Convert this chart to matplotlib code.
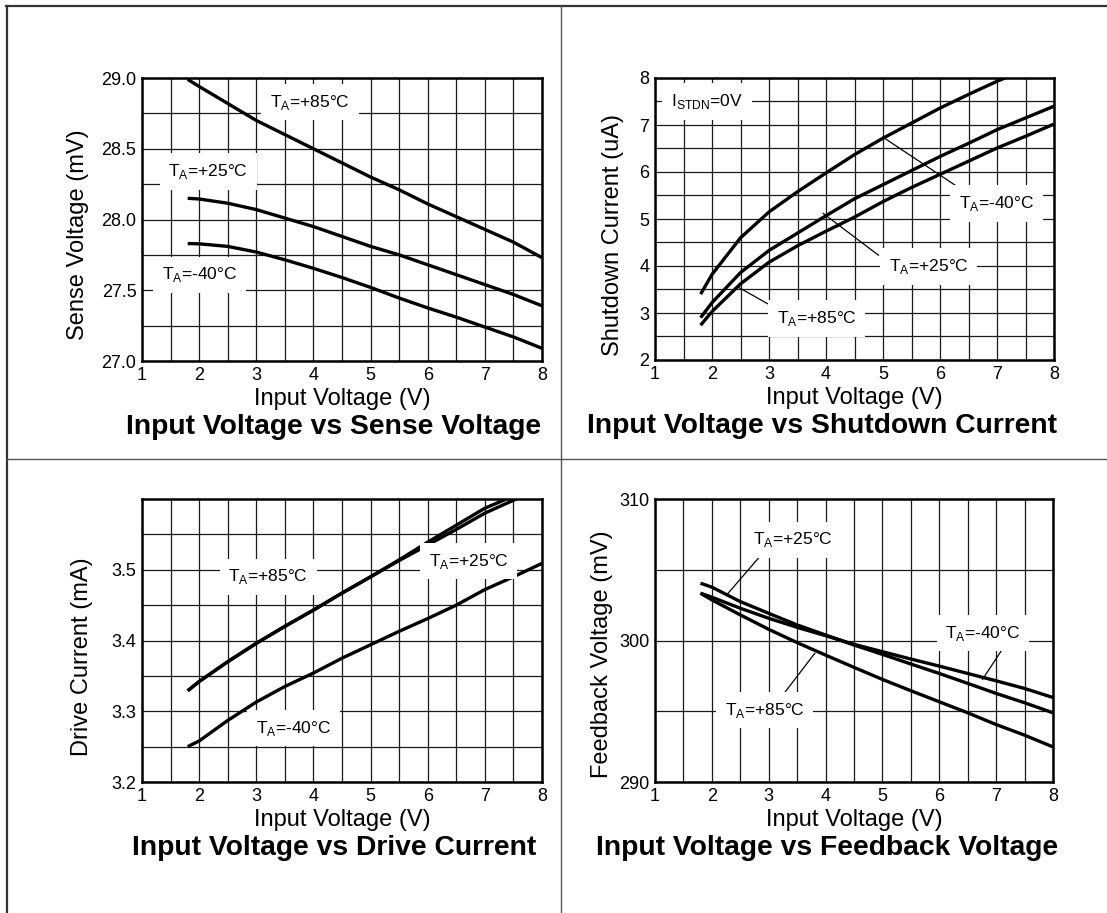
import numpy as np
import matplotlib
matplotlib.use("Agg")
import matplotlib.pyplot as plt
from matplotlib.lines import Line2D

plt.rcParams['font.family'] = ['Liberation Sans', 'DejaVu Sans']
plt.rcParams['mathtext.fontset'] = 'custom'
plt.rcParams['mathtext.rm'] = 'Liberation Sans'

W, H = 1107, 913

# input voltage points shared by most curves
vin = [1.8, 2.0, 2.5, 3.0, 3.5, 4.0, 4.5, 5.0, 5.5, 6.0, 6.5, 7.0, 7.5, 8.0]

# sense voltage (mV)
sense_85 = [28.99, 28.94, 28.82, 28.70, 28.60, 28.50, 28.40, 28.30, 28.21, 28.11, 28.02, 27.93, 27.84, 27.73]
sense_25 = [28.15, 28.145, 28.115, 28.07, 28.01, 27.95, 27.88, 27.81, 27.75, 27.68, 27.61, 27.54, 27.47, 27.39]
sense_m40 = [27.83, 27.828, 27.81, 27.77, 27.715, 27.655, 27.59, 27.52, 27.445, 27.375, 27.31, 27.24, 27.17, 27.09]

# shutdown current (uA)
shdn_vin_m40 = [1.8, 2.0, 2.5, 3.0, 3.5, 4.0, 4.5, 5.0, 5.5, 6.0, 6.5, 7.0, 7.14]
shdn_m40 = [3.40, 3.82, 4.60, 5.15, 5.58, 5.98, 6.37, 6.72, 7.04, 7.36, 7.65, 7.93, 8.0]
shdn_25 = [2.90, 3.22, 3.86, 4.33, 4.70, 5.07, 5.43, 5.73, 6.03, 6.33, 6.61, 6.90, 7.15, 7.40]
shdn_85 = [2.74, 3.03, 3.62, 4.08, 4.43, 4.74, 5.04, 5.37, 5.67, 5.95, 6.23, 6.51, 6.76, 7.02]

# drive current (mA)
drive_vin_85 = [1.8, 2.0, 2.5, 3.0, 3.5, 4.0, 4.5, 5.0, 5.5, 6.0, 6.5, 7.0, 7.38]
drive_85 = [3.329, 3.342, 3.370, 3.396, 3.420, 3.443, 3.467, 3.490, 3.514, 3.539, 3.563, 3.587, 3.60]
drive_vin_25 = [1.8, 2.0, 2.5, 3.0, 3.5, 4.0, 4.5, 5.0, 5.5, 6.0, 6.5, 7.0, 7.55]
drive_25 = [3.329, 3.342, 3.370, 3.396, 3.420, 3.443, 3.467, 3.490, 3.513, 3.535, 3.557, 3.580, 3.60]
drive_m40 = [3.250, 3.258, 3.287, 3.313, 3.335, 3.354, 3.375, 3.394, 3.413, 3.431, 3.450, 3.472, 3.490, 3.509]

# feedback voltage (mV)
fb_25 = [304.05, 303.77, 302.75, 301.92, 301.10, 300.39, 299.68, 299.02, 298.34, 297.67, 296.97, 296.26, 295.60, 294.89]
fb_m40 = [303.34, 303.06, 302.28, 301.57, 300.93, 300.34, 299.73, 299.21, 298.69, 298.19, 297.67, 297.15, 296.61, 295.97]
fb_85 = [303.34, 302.87, 301.81, 300.79, 299.85, 298.97, 298.10, 297.25, 296.45, 295.67, 294.89, 294.06, 293.31, 292.48]


def fx(px):
    return px / W


def fy(py):
    return 1 - py / H


def make_axes(fig, box, ylim, yticks, ylabels, ygrid):
    """
    Adds one grid panel at the pixel box (left, top, right, bottom)
    """
    left, top, right, bottom = box
    ax = fig.add_axes([fx(left), fy(bottom), (right - left) / W, (bottom - top) / H])
    ax.set_xlim(1, 8)
    ax.set_ylim(ylim)
    ax.set_xticks(range(1, 9))
    ax.set_xticks(np.arange(1.5, 8, 1), minor=True)
    ax.set_yticks(yticks)
    ax.set_yticklabels(ylabels)
    ax.set_yticks(ygrid, minor=True)
    ax.grid(True, which='both', color='#1a1a1a', lw=0.9)
    ax.set_axisbelow(True)
    ax.tick_params(which='both', length=0, labelsize=13)
    ax.tick_params(axis='x', pad=4)
    ax.tick_params(axis='y', pad=4)
    for s in ax.spines.values():
        s.set_linewidth(1.8)
    return ax


def ta_label(ax, x, y, text):
    ax.text(x, y, text, ha='center', va='center', fontsize=12.5, zorder=5,
            bbox=dict(boxstyle='square,pad=0.5', fc='white', ec='none'))


def leader(ax, x0, y0, x1, y1):
    ax.plot([x0, x1], [y0, y1], color='black', lw=0.9, zorder=4)


def texts(fig, box, ylabel, ylab_xy, title, title_x):
    left, top, right, bottom = box
    fig.text(fx((left + right) / 2), fy(bottom + 38), 'Input Voltage (V)',
             ha='center', va='center', fontsize=17)
    fig.text(fx(ylab_xy[0]), fy(ylab_xy[1]), ylabel, rotation=90,
             ha='center', va='center', fontsize=17)
    fig.text(fx(title_x), fy(bottom + 66), title, ha='center', va='center',
             fontsize=20.3, fontweight='bold')


def run():
    fig = plt.figure(figsize=(W / 100, H / 100), dpi=100)
    curve = dict(color='black', lw=2.4, zorder=3, solid_capstyle='butt',
                 solid_joinstyle='round')
    ta = r'T$_{\mathregular{A}}$='

    # Sense voltage
    box1 = (142, 78, 542, 361)
    ax = make_axes(fig, box1, (27.0, 29.0), [27.0, 27.5, 28.0, 28.5, 29.0],
                   ['27.0', '27.5', '28.0', '28.5', '29.0'], [27.25, 27.75, 28.25, 28.75])
    ax.plot(vin, sense_85, **curve)
    ax.plot(vin, sense_25, **curve)
    ax.plot(vin, sense_m40, **curve)
    ta_label(ax, 3.94, 28.83, ta + '+85°C')
    ta_label(ax, 2.16, 28.34, ta + '+25°C')
    ta_label(ax, 2.01, 27.61, ta + '-40°C')
    texts(fig, box1, 'Sense Voltage (mV)', (78, 235), 'Input Voltage vs Sense Voltage', 334)

    # Shutdown current
    box2 = (655, 78, 1054, 360)
    ax = make_axes(fig, box2, (2, 8), range(2, 9), [str(v) for v in range(2, 9)],
                   np.arange(2.5, 8, 1))
    ax.plot(shdn_vin_m40, shdn_m40, **curve)
    ax.plot(vin, shdn_25, **curve)
    ax.plot(vin, shdn_85, **curve)
    leader(ax, 5.0, 6.74, 6.29, 5.70)
    leader(ax, 3.95, 5.12, 4.92, 4.23)
    leader(ax, 2.46, 3.55, 3.06, 3.14)
    ta_label(ax, 1.91, 7.5, r'I$_{\mathregular{STDN}}$=0V')
    ta_label(ax, 6.99, 5.33, ta + '-40°C')
    ta_label(ax, 5.80, 3.99, ta + '+25°C')
    ta_label(ax, 3.84, 2.88, ta + '+85°C')
    texts(fig, box2, 'Shutdown Current (uA)', (613, 235), 'Input Voltage vs Shutdown Current', 822)

    # Drive current
    box3 = (142, 499, 542, 782)
    ax = make_axes(fig, box3, (3.2, 3.6), [3.2, 3.3, 3.4, 3.5],
                   ['3.2', '3.3', '3.4', '3.5'], [3.25, 3.35, 3.45, 3.55])
    ax.plot(drive_vin_85, drive_85, **curve)
    ax.plot(drive_vin_25, drive_25, **curve)
    ax.plot(vin, drive_m40, **curve)
    ta_label(ax, 3.21, 3.49, ta + '+85°C')
    ta_label(ax, 6.72, 3.512, ta + '+25°C')
    ta_label(ax, 3.65, 3.276, ta + '-40°C')
    texts(fig, box3, 'Drive Current (mA)', (82, 657), 'Input Voltage vs Drive Current', 334)

    # Feedback voltage
    box4 = (655, 499, 1053, 782)
    ax = make_axes(fig, box4, (290, 310), [290, 300, 310], ['290', '300', '310'], [295, 305])
    ax.plot(vin, fb_25, **curve)
    ax.plot(vin, fb_m40, **curve)
    ax.plot(vin, fb_85, **curve)
    leader(ax, 2.87, 306.06, 2.26, 303.22)
    leader(ax, 7.12, 299.45, 6.76, 297.25)
    leader(ax, 3.20, 295.9, 3.81, 299.09)
    ta_label(ax, 3.43, 307.12, ta + '+25°C')
    ta_label(ax, 6.77, 300.51, ta + '-40°C')
    ta_label(ax, 2.93, 295.08, ta + '+85°C')
    texts(fig, box4, 'Feedback Voltage (mV)', (602, 654), 'Input Voltage vs Feedback Voltage', 827)

    # outer frame and dividers
    fig.add_artist(Line2D([fx(6), fx(1107)], [fy(6), fy(6)], color='#333333', lw=1.6))
    fig.add_artist(Line2D([fx(7), fx(7)], [fy(6), fy(913)], color='#333333', lw=1.6))
    fig.add_artist(Line2D([fx(561), fx(561)], [fy(6), fy(913)], color='#555555', lw=1.0))
    fig.add_artist(Line2D([fx(7), fx(1107)], [fy(459), fy(459)], color='#555555', lw=1.0))

    fig.savefig("out.png", dpi=100)


run()
